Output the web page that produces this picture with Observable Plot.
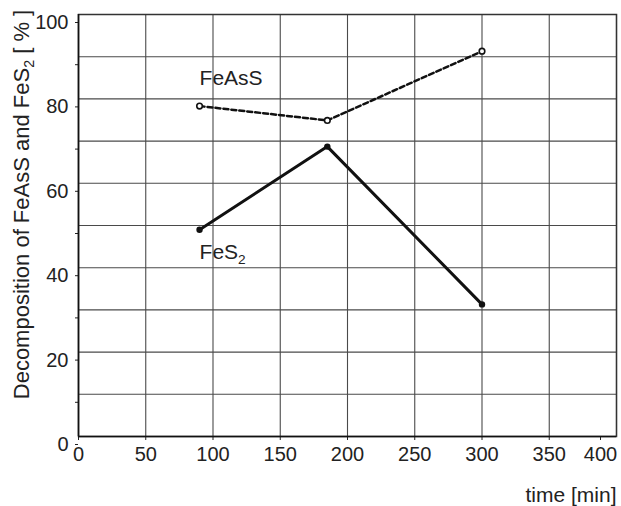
<!DOCTYPE html>
<html><head><meta charset="utf-8">
<script src="https://cdn.jsdelivr.net/npm/d3@7"></script>
<script src="https://cdn.jsdelivr.net/npm/@observablehq/plot@0.6"></script>
<style>body{margin:0;background:#fff}</style>
</head><body><div id="chart"></div>
<script>
// Data
const times = [90, 185, 300];
const feass = [78.3, 74.9, 91.3];
const fes2 = [49.0, 68.7, 31.3];
const xTicks = [0, 50, 100, 150, 200, 250, 300, 350, 400];
const yGridTicks = [0, 10, 20, 30, 40, 50, 60, 70, 80, 90, 100];
const yLabelTicks = [0, 20, 40, 60, 80, 100];
const seriesNames = ["FeAsS", "FeS₂"];
const labelX = [90, 90];
const labelY = [84.8, 43.6];
const xTitle = "time [min]";
const yTitle = "Decomposition of FeAsS and FeS₂ [ % ]";

const feassData = times.map((t, i) => ({t, v: feass[i]}));
const fes2Data = times.map((t, i) => ({t, v: fes2[i]}));
const labels = seriesNames.map((s, i) => ({s, x: labelX[i], y: labelY[i]}));

const FONT = 20;
const plot = Plot.plot({
  width: 621,
  height: 506,
  marginLeft: 78,
  marginRight: 5,
  marginTop: 14,
  marginBottom: 70,
  style: {fontFamily: "'Liberation Sans', Arial, Helvetica, sans-serif", background: "#fff", color: "#222"},
  x: {domain: [0, 400]},
  y: {domain: [0, 100]},
  marks: [
    Plot.gridX(xTicks, {stroke: "#4a4a4a", strokeOpacity: 1, strokeWidth: 1.1}),
    Plot.gridY(yGridTicks, {stroke: "#4a4a4a", strokeOpacity: 1, strokeWidth: 1.1}),
    Plot.frame({stroke: "#333", strokeWidth: 1.5}),
    Plot.axisY(yGridTicks, {tickSize: 3, tickPadding: 7, dy: 8, fontSize: FONT, stroke: "#222",
      tickFormat: d => (yLabelTicks.includes(d) ? String(d) : ""), label: null}),
    Plot.axisX(xTicks.slice(0, -1), {tickSize: 4, tickPadding: 6, fontSize: FONT, stroke: "#222", label: null}),
    Plot.axisX(xTicks.slice(-1), {tickSize: 4, tickPadding: 6, fontSize: FONT, stroke: "#222", label: null, dx: -16}),
    Plot.ruleX([0], {stroke: "#111", strokeWidth: 1.5}),
    Plot.ruleY([0], {stroke: "#111", strokeWidth: 1.5}),
    Plot.line(feassData, {x: "t", y: "v", stroke: "#111", strokeWidth: 2.5, strokeDasharray: "5,3"}),
    Plot.dot(feassData, {x: "t", y: "v", r: 2.8, fill: "#fff", stroke: "#111", strokeWidth: 1.6}),
    Plot.line(fes2Data, {x: "t", y: "v", stroke: "#111", strokeWidth: 3}),
    Plot.dot(fes2Data, {x: "t", y: "v", r: 3.2, fill: "#111", stroke: "none"}),
    Plot.text(labels, {x: "x", y: "y", text: "s", textAnchor: "start", fontSize: 21, fill: "#222"}),
    Plot.text([xTitle], {frameAnchor: "bottom-right", textAnchor: "end", lineAnchor: "middle", dy: 59, fontSize: 21, fill: "#222"}),
    Plot.text([yTitle], {frameAnchor: "left", rotate: -90, textAnchor: "middle", lineAnchor: "middle", dx: -57, dy: -21, fontSize: 22, fill: "#222"})
  ]
});

// Render subscript "₂" as a real lowered, smaller "2"
function subscripts(root) {
  const walker = document.createTreeWalker(root, NodeFilter.SHOW_TEXT);
  const nodes = [];
  while (walker.nextNode()) if (walker.currentNode.nodeValue.includes("₂")) nodes.push(walker.currentNode);
  const NS = "http://www.w3.org/2000/svg";
  for (const n of nodes) {
    const parts = n.nodeValue.split("₂");
    const frag = document.createDocumentFragment();
    parts.forEach((p, i) => {
      if (i > 0) {
        const sub = document.createElementNS(NS, "tspan");
        sub.setAttribute("dy", "5");
        sub.setAttribute("font-size", "0.65em");
        sub.textContent = "2";
        frag.appendChild(sub);
        if (p.length) {
          const rest = document.createElementNS(NS, "tspan");
          rest.setAttribute("dy", "-5");
          rest.textContent = p;
          frag.appendChild(rest);
        }
      } else if (p.length) {
        frag.appendChild(document.createTextNode(p));
      }
    });
    n.parentNode.replaceChild(frag, n);
  }
}
subscripts(plot);
document.getElementById("chart").appendChild(plot);
</script>
</body></html>
